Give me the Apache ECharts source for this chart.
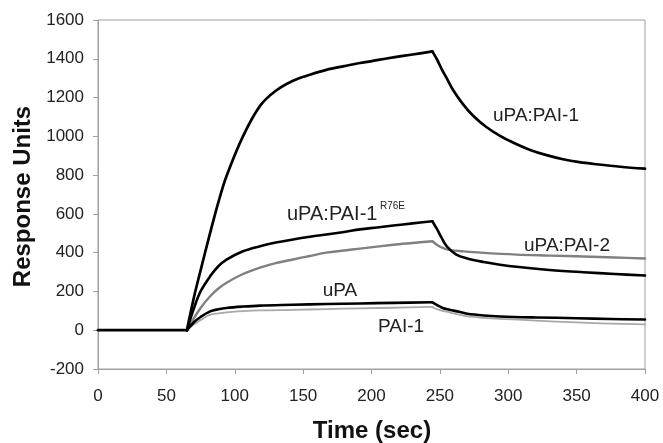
<!DOCTYPE html>
<html>
<head>
<meta charset="utf-8">
<script src="https://cdn.jsdelivr.net/npm/echarts@6/dist/echarts.min.js"></script>
<style>
  html, body { margin: 0; padding: 0; background: #fff; }
  #main { width: 663px; height: 443px; }
</style>
</head>
<body>
<div id="main"></div>
<script>
// sensorgram readings (time in sec, response units)
// baseline before injection, shared by all curves
const tBase = [0, 65];
const vBase = [0, 0];

// uPA:PAI-1 — association, then dissociation
const tComplex1On = [65, 70, 74.6, 82, 88, 94, 106, 118.5, 130, 142.6, 155, 167, 180, 191.6, 204, 216, 230, 244.5];
const vComplex1On = [0, 165, 297, 502, 660, 795, 1000, 1157, 1235, 1287, 1318, 1343, 1362, 1378, 1393, 1407, 1422, 1438];
const tComplex1Off = [244.5, 248, 251.3, 255, 260, 267, 274.5, 284, 294, 305, 316, 328, 340, 352, 364.6, 382, 400];
const vComplex1Off = [1438, 1395, 1347, 1300, 1235, 1165, 1105, 1048, 1002, 963, 930, 903, 882, 867, 856, 843, 833];

// uPA:PAI-1 R76E
const tR76EOn = [65, 70, 75, 82, 88, 94, 106, 118.5, 130, 142.6, 155, 167, 180, 191.6, 204, 216, 230, 244.5];
const vR76EOn = [0, 110, 200, 278, 330, 364, 407, 433, 452, 468, 482, 494, 507, 520, 530, 540, 551, 562];
const tR76EOff = [244.5, 248, 251, 255, 262, 270, 282, 294, 306, 330, 355, 378, 400];
const vR76EOff = [562, 520, 480, 433, 390, 370, 352, 338, 327, 311, 299, 290, 282];

// uPA:PAI-2
const tPAI2On = [65, 70, 75, 82, 88, 94, 106, 118.5, 130, 142.6, 155, 167, 180, 191.6, 204, 216, 230, 244.5];
const vPAI2On = [0, 60, 115, 175, 215, 245, 290, 323, 346, 365, 383, 400, 411, 421, 431, 441, 450, 459];
const tPAI2Off = [244.5, 248, 252, 258, 267, 280, 306, 330, 355, 378, 400];
const vPAI2Off = [459, 440, 425, 413, 407, 400, 390, 385, 380, 375, 370];

// uPA
const tUPAOn = [65, 70, 75, 82, 88, 94, 106, 118.5, 142.6, 167, 191.6, 216, 244.5];
const vUPAOn = [0, 40, 68, 97, 108, 115, 122, 127, 131, 135, 138, 141, 144];
const tUPAOff = [244.5, 248, 252, 257, 264, 270, 282, 294, 320, 350, 375, 400];
const vUPAOff = [144, 130, 115, 106, 95, 85, 76, 71, 66, 62, 58, 55];

// PAI-1
const tPAI1On = [65, 70, 75, 82, 88, 94, 106, 118.5, 142.6, 167, 191.6, 216, 244.5];
const vPAI1On = [0, 30, 52, 80, 87, 92, 98, 102, 105, 109, 113, 116, 120];
const tPAI1Off = [244.5, 248, 252, 257, 264, 270, 282, 294, 320, 350, 375, 400];
const vPAI1Off = [120, 108, 100, 92, 80, 71, 64, 59, 50, 40, 34, 30];

const xTicks = [0, 50, 100, 150, 200, 250, 300, 350, 400];
const yTicks = [-200, 0, 200, 400, 600, 800, 1000, 1200, 1400, 1600];

const FONT = 'Liberation Sans, Arial, sans-serif';
const AXIS_GRAY = '#a0a0a0';

function pairs(ts, vs) {
  return ts.map((t, i) => [t, vs[i]]);
}

function line(name, ts, vs, color, width) {
  return {
    name: name,
    type: 'line',
    data: pairs(ts, vs),
    showSymbol: false,
    smooth: 0.35,
    silent: true,
    lineStyle: { color: color, width: width, join: 'round', cap: 'round' }
  };
}

function label(text, x, y, size, align) {
  return {
    type: 'text',
    x: x,
    y: y,
    silent: true,
    style: {
      text: text,
      fontSize: size,
      fontFamily: FONT,
      fill: '#222',
      align: align || 'center',
      textAlign: align || 'center',
      verticalAlign: 'middle',
      textVerticalAlign: 'middle'
    }
  };
}

const myChart = echarts.init(document.getElementById('main'));

const option = {
  backgroundColor: '#fff',
  animation: false,
  grid: {
    left: 98, right: 18, top: 20, bottom: 74,
    show: true, borderColor: AXIS_GRAY, borderWidth: 1
  },
  xAxis: {
    type: 'value',
    min: xTicks[0],
    max: xTicks[xTicks.length - 1],
    interval: 50,
    axisLine: { show: true, onZero: false, lineStyle: { color: AXIS_GRAY, width: 1 } },
    axisTick: { show: true, inside: false, length: 5, lineStyle: { color: AXIS_GRAY } },
    splitLine: { show: false },
    axisLabel: { fontSize: 17, fontFamily: FONT, color: '#222', margin: 19, formatter: v => String(v) }
  },
  yAxis: {
    type: 'value',
    min: yTicks[0],
    max: yTicks[yTicks.length - 1],
    interval: 200,
    axisLine: { show: true, onZero: false, lineStyle: { color: AXIS_GRAY, width: 1 } },
    axisTick: { show: true, inside: false, length: 5, lineStyle: { color: AXIS_GRAY } },
    splitLine: { show: false },
    axisLabel: { fontSize: 17, fontFamily: FONT, color: '#222', margin: 14, formatter: v => String(v) }
  },
  series: [
    line('PAI-1 on', tPAI1On, vPAI1On, '#a8a8a8', 1.8),
    line('PAI-1 off', tPAI1Off, vPAI1Off, '#a8a8a8', 1.8),
    line('uPA:PAI-2 on', tPAI2On, vPAI2On, '#808080', 2.4),
    line('uPA:PAI-2 off', tPAI2Off, vPAI2Off, '#808080', 2.4),
    line('baseline', tBase, vBase, '#000', 2.8),
    line('uPA on', tUPAOn, vUPAOn, '#000', 2.6),
    line('uPA off', tUPAOff, vUPAOff, '#000', 2.6),
    line('R76E on', tR76EOn, vR76EOn, '#000', 2.6),
    line('R76E off', tR76EOff, vR76EOff, '#000', 2.6),
    line('uPA:PAI-1 on', tComplex1On, vComplex1On, '#000', 2.7),
    line('uPA:PAI-1 off', tComplex1Off, vComplex1Off, '#000', 2.7)
  ],
  graphic: [
    label('uPA:PAI-1', 536, 116, 19),
    label('uPA:PAI-1', 287, 214.5, 20, 'left'),
    label('R76E', 380, 206, 10, 'left'),
    label('uPA:PAI-2', 567, 246, 19),
    label('uPA', 340, 290.5, 19),
    label('PAI-1', 401, 327, 19),
    {
      type: 'text', x: 372, y: 431, silent: true,
      style: {
        text: 'Time (sec)', fontSize: 24, fontWeight: 'bold', fontFamily: FONT, fill: '#111',
        align: 'center', textAlign: 'center', verticalAlign: 'middle', textVerticalAlign: 'middle'
      }
    },
    {
      type: 'text', x: 23, y: 196.5, rotation: Math.PI / 2, silent: true,
      style: {
        text: 'Response Units', fontSize: 24, fontWeight: 'bold', fontFamily: FONT, fill: '#111',
        align: 'center', textAlign: 'center', verticalAlign: 'middle', textVerticalAlign: 'middle'
      }
    }
  ]
};

myChart.setOption(option);
</script>
</body>
</html>
